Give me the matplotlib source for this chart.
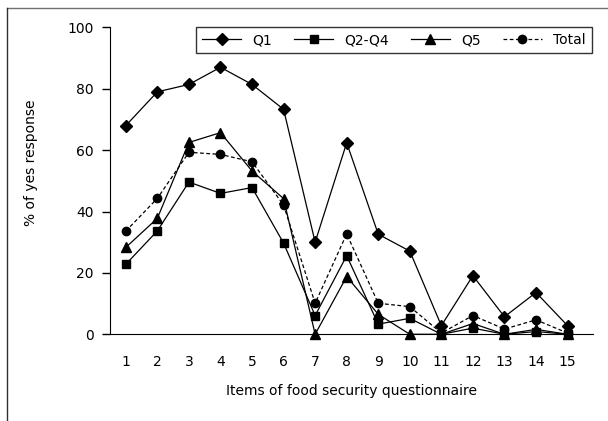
import numpy as np
import matplotlib
matplotlib.use("Agg")
import matplotlib.pyplot as plt
from matplotlib.lines import Line2D

# ---------------- data ----------------
items = list(range(1, 16))
q1 = [68, 79, 81.4, 87, 81.4, 73.3, 30, 62.4, 32.6, 27.1, 2.8, 19.1, 5.7, 13.6, 2.8]
q2_q4 = [22.8, 33.7, 49.6, 45.9, 47.8, 29.7, 6.1, 25.6, 3.3, 5.2, 0, 2.0, 0, 0.9, 0]
q5 = [28.3, 37.8, 62.5, 65.7, 53.2, 44.2, 0, 18.8, 6.5, 0, 0, 3.5, 0, 1.6, 0]
total = [33.6, 44.3, 59.3, 58.6, 56.2, 42.1, 10.1, 32.7, 10.1, 9.0, 0.4, 6.1, 1.7, 4.7, 0.4]

plt.rcParams['font.family'] = ['DejaVu Sans']

fig = plt.figure(figsize=(6.08, 4.21), dpi=100)
ax = fig.add_axes([0.181, 0.206, 0.794, 0.729])

ax.plot(items, q1, color='black', lw=0.9, marker='D', ms=6.5, label='Q1', clip_on=False)
ax.plot(items, q2_q4, color='black', lw=0.9, marker='s', ms=6, label='Q2-Q4', clip_on=False)
ax.plot(items, q5, color='black', lw=0.9, marker='^', ms=7.5, label='Q5', clip_on=False)
ax.plot(items, total, color='black', lw=0.9, ls=(0, (3, 2)), marker='o', ms=6,
        label='Total', clip_on=False)

ax.set_xlim(0.5, 15.8)
ax.set_ylim(0, 100)
ax.set_xticks(items)
ax.set_yticks([0, 20, 40, 60, 80, 100])
ax.tick_params(axis='x', length=0, pad=15, labelsize=10)
ax.tick_params(axis='y', length=6, width=1, direction='out', labelsize=10, pad=6)
ax.spines['top'].set_visible(False)
ax.spines['right'].set_visible(False)

ax.set_xlabel("Items of food security questionnaire", fontsize=10, labelpad=11)
ax.set_ylabel("% of yes response", fontsize=10)
ax.yaxis.set_label_coords(-0.15, 0.56)

leg = ax.legend(loc='upper right', bbox_to_anchor=(1.012, 1.024), ncol=4,
                frameon=True, fancybox=False, edgecolor='black', fontsize=10,
                handlelength=2.8, handletextpad=0.8, columnspacing=1.6,
                borderpad=0.45)
leg.get_frame().set_linewidth(1)

# outer frame lines (top and left)
fig.add_artist(Line2D([7 / 608, 1], [1 - 7.5 / 421, 1 - 7.5 / 421], color='#707070', lw=1))
fig.add_artist(Line2D([7 / 608, 7 / 608], [0, 1 - 7.5 / 421], color='#303030', lw=1))

fig.savefig("out.png", dpi=100)
